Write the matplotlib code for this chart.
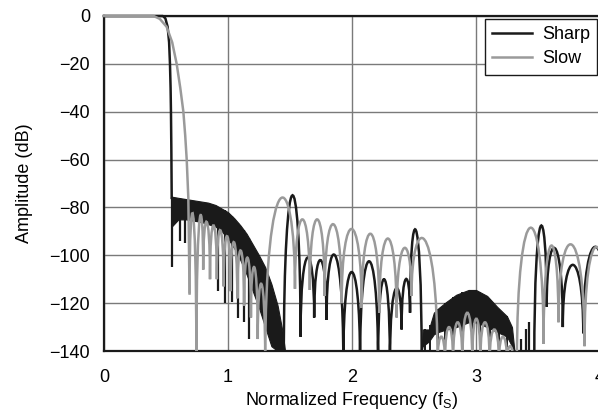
import numpy as np
import matplotlib
matplotlib.use('Agg')
import matplotlib.pyplot as plt
from matplotlib.path import Path
from matplotlib.patches import PathPatch
from matplotlib.lines import Line2D

plt.rcParams['font.family'] = ['Liberation Sans', 'DejaVu Sans']
plt.rcParams['mathtext.fontset'] = 'custom'
plt.rcParams['mathtext.rm'] = 'Liberation Sans'

# ---- data (frequency in fs, amplitude in dB) ----
# passband / transition
sharp_pass_f = [0, 0.475, 0.495, 0.513, 0.525, 0.532, 0.537, 0.540, 0.543, 0.546]
sharp_pass_db = [0, 0, -1, -4.5, -11, -20, -30, -40, -55, -76]
slow_pass_f = [0, 0.40, 0.45, 0.505, 0.55, 0.586, 0.615, 0.64, 0.655, 0.667, 0.68, 0.69]
slow_pass_db = [0, 0, -1.2, -4.5, -11, -20, -30, -40, -50, -60, -76, -116]

# sharp: dense ripple bands (upper / lower edge)
band1_f = [0.546, 0.6, 0.66, 0.72, 0.78, 0.84, 0.9, 0.95, 1.0, 1.05, 1.1,
           1.15, 1.2, 1.25, 1.3, 1.35, 1.4, 1.44, 1.46]
band1_hi = [-75.5, -76, -76.5, -77, -77.5, -78, -79, -80.5, -82, -84.5, -87.5,
            -91, -95.5, -100, -105, -112, -121, -132, -140]
band1_lo = [-88, -85, -85, -85.5, -86, -87, -88, -90, -93, -97, -102,
            -108, -115, -122, -130, -138, -140, -140, -140]
dips1_f = [0.548, 0.613, 0.653, 0.922, 0.976, 1.03, 1.083, 1.13, 1.17]
dips1_db = [-105, -94, -95, -115, -120, -119.5, -126, -128, -135]

band2_f = [2.562, 2.57, 2.62, 2.66, 2.70, 2.76, 2.84, 2.94, 3.0, 3.09, 3.17, 3.25, 3.29, 3.31]
band2_hi = [-140, -131, -131, -124, -122, -119.5, -116.5, -114.5, -114.5, -117, -121.5, -125.5, -130, -140]
band2_lo = [-140, -138, -136, -133, -132, -131, -130, -128, -128, -130, -132, -134, -138, -140]
dips2_f = [2.59, 2.63, 2.69, 2.75, 2.815, 2.89, 2.97, 3.035, 3.11, 3.185, 3.25]
dips2_db = [-141] * 11
bits_f = [3.36, 3.40, 3.43]
bits_db = [-135, -131, -128]

# sharp: sidelobes (null positions, null depths, lobe peaks)
sharp_nulls_a = [1.45, 1.585, 1.695, 1.795, 1.93, 2.065, 2.21, 2.306, 2.40, 2.468, 2.562]
sharp_depth_a = [-145, -134, -126, -127, -145, -145, -145, -145, -131, -124, -145]
sharp_peaks_a = [-75, -101, -102, -100, -107, -102.5, -110, -114, -110, -89.5]
sharp_nulls_b = [3.47, 3.57, 3.70, 3.865, 4.07]
sharp_depth_b = [-145, -121.5, -130, -132.6, -140]
sharp_peaks_b = [-88, -97, -104, -96.5]

# slow: sidelobes
slow_nulls_a = [0.69, 0.745, 0.80, 0.855, 0.91, 0.965, 1.02, 1.075, 1.13, 1.185, 1.24, 1.30]
slow_depth_a = [-116, -145, -106, -110, -110, -113, -115, -118, -121, -126, -135, -145]
slow_peaks_a = [-83, -84.5, -86, -87.5, -89.5, -92, -94.5, -98, -101, -105, -112]
slow_nulls_b = [1.30, 1.54, 1.66, 1.78, 1.917, 2.078, 2.22, 2.36, 2.48, 2.69]
slow_depth_b = [-145, -114, -114.5, -117, -120, -122, -124, -126, -117, -145]
slow_peaks_b = [-76.5, -85, -85, -87, -89, -91, -93, -97, -93.5]
slow_nulls_c = [2.69, 2.75, 2.815, 2.89, 2.97, 3.035, 3.11, 3.185, 3.25, 3.30]
slow_depth_c = [-145] * 10
slow_peaks_c = [-134, -130, -128, -124, -126.5, -128, -131, -134, -138]
slow_nulls_d = [3.33, 3.545, 3.665, 3.875, 4.07]
slow_depth_d = [-145, -137, -128, -138, -140]
slow_peaks_d = [-88.5, -96, -95.5, -96.5]

BLACK = '#1a1a1a'
GREY = '#9a9a9a'
LW = 1.8
FS = 13


def lobes(nulls, depths, peaks):
    # one arch per lobe, bezier from null to null with the read peak at its middle
    verts = [(nulls[0], depths[0])]
    codes = [Path.MOVETO]
    for i, p in enumerate(peaks):
        x0, x1 = nulls[i], nulls[i + 1]
        y0, y1 = depths[i], depths[i + 1]
        h = (8 * p - y0 - y1) / 6
        verts += [(x0, h), (x1, h), (x1, y1)]
        codes += [Path.CURVE4] * 3
    return Path(verts, codes)


fig = plt.figure(figsize=(5.98, 4.15), dpi=100)
ax = fig.add_axes([104 / 598, 1 - 351 / 415, 496 / 598, 335 / 415])

# sharp
ax.plot(sharp_pass_f, sharp_pass_db, color=BLACK, lw=LW, clip_on=False, zorder=3)
ax.fill_between(band1_f, band1_lo, band1_hi, color=BLACK, lw=0.8, zorder=3)
ax.fill_between(band2_f, band2_lo, band2_hi, color=BLACK, lw=0.8, zorder=3)
ax.vlines(dips1_f, dips1_db, np.interp(dips1_f, band1_f, band1_hi), color=BLACK, lw=1.6, zorder=3)
ax.vlines(dips2_f, dips2_db, np.interp(dips2_f, band2_f, band2_hi), color=BLACK, lw=1.4, zorder=3)
ax.vlines(bits_f, -141, bits_db, color=BLACK, lw=1.6, zorder=3)
for n, d, p in [(sharp_nulls_a, sharp_depth_a, sharp_peaks_a),
                (sharp_nulls_b, sharp_depth_b, sharp_peaks_b)]:
    ax.add_patch(PathPatch(lobes(n, d, p), fill=False, edgecolor=BLACK, lw=LW, zorder=3))

# slow
ax.plot(slow_pass_f, slow_pass_db, color=GREY, lw=LW, clip_on=False, zorder=4)
for n, d, p in [(slow_nulls_a, slow_depth_a, slow_peaks_a),
                (slow_nulls_b, slow_depth_b, slow_peaks_b),
                (slow_nulls_c, slow_depth_c, slow_peaks_c),
                (slow_nulls_d, slow_depth_d, slow_peaks_d)]:
    ax.add_patch(PathPatch(lobes(n, d, p), fill=False, edgecolor=GREY, lw=LW, zorder=4))

ax.set_xlim(0, 4)
ax.set_ylim(-140, 0)
ax.set_xticks([0, 1, 2, 3, 4])
ax.set_yticks(np.arange(-140, 1, 20))
ax.grid(True, color='#7a7a7a', lw=1.0)
ax.set_axisbelow(True)
ax.tick_params(axis='y', length=0, labelsize=FS, pad=10)
ax.tick_params(axis='x', length=0, labelsize=FS, pad=13)
for s in ax.spines.values():
    s.set_linewidth(1.6)
    s.set_color(BLACK)

ax.set_xlabel(r'Normalized Frequency (f$_\mathregular{S}$)', fontsize=FS, labelpad=3)
ax.set_ylabel('Amplitude (dB)', fontsize=FS, labelpad=12)

handles = [Line2D([], [], color=BLACK, lw=LW), Line2D([], [], color=GREY, lw=LW)]
leg = fig.legend(handles, ['Sharp', 'Slow'], loc='upper right',
                 bbox_to_anchor=(597 / 598, 1 - 19 / 415), fontsize=FS,
                 fancybox=False, framealpha=1, edgecolor=BLACK,
                 handlelength=2.2, borderpad=0.4, labelspacing=0.4,
                 handletextpad=0.55, borderaxespad=0)
leg.get_frame().set_linewidth(1.0)

fig.savefig('out.png', dpi=100)
